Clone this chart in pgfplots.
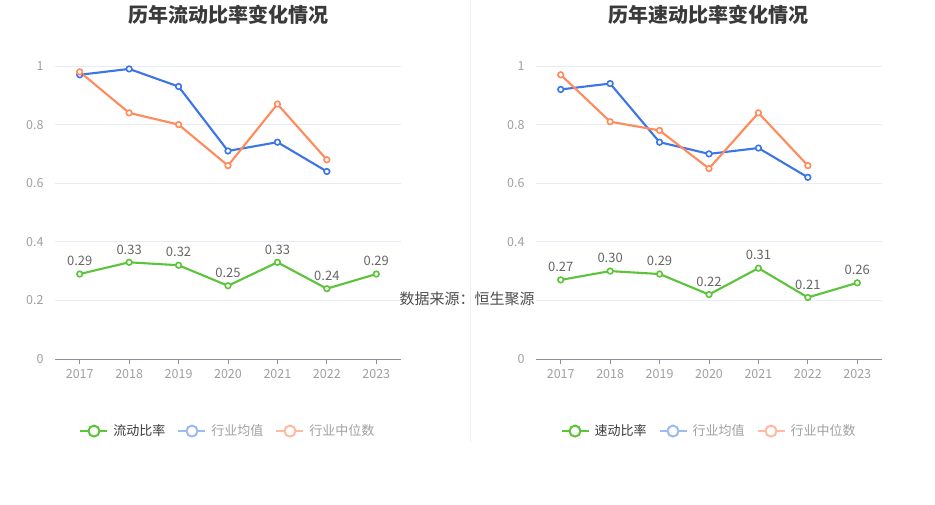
\documentclass[border=0pt]{standalone}
\usepackage{pgfplots}
\pgfplotsset{compat=1.18}
\usepackage{fontspec}
\setmainfont{Noto Sans CJK SC}
\definecolor{cgreen}{HTML}{5CC43A}
\definecolor{cblue}{HTML}{3C75E6}
\definecolor{corange}{HTML}{FF8A5C}
\definecolor{lgreen}{HTML}{5CC43A}
\definecolor{lblue}{HTML}{9DBAF3}
\definecolor{lorange}{HTML}{FFBBA2}
\definecolor{gridc}{HTML}{E6EBF4}
\definecolor{axc}{HTML}{8E919B}
\definecolor{tickc}{HTML}{A0A0A0}
\definecolor{labc}{HTML}{666666}
\definecolor{titc}{HTML}{3A3A3A}
\pgfplotsset{
  myax/.style={
    /pgf/number format/assume math mode=true,
    scale only axis, width=346pt, height=293pt,
    xmin=-0.5, xmax=6.5, ymin=0, ymax=1,
    xtick={0,...,6}, xticklabels={2017,2018,2019,2020,2021,2022,2023},
    ytick={0,0.2,0.4,0.6,0.8,1},
    yticklabels={0,0.2,0.4,0.6,0.8,1},
    axis x line*=bottom, axis y line*=left,
    x axis line style={draw=axc, line width=1pt, -},
    y axis line style={draw=none},
    xtick style={draw=axc, line width=0.8pt},
    ytick style={draw=none},
    tick align=outside, major tick length=5pt,
    ymajorgrids, grid style={draw=gridc, line width=0.8pt},
    tick label style={font=\fontsize{12.5}{14}\selectfont, text=tickc},
    xticklabel style={yshift=-2pt},
    yticklabel style={xshift=-3pt},
    clip=false,
    legend style={draw=none, fill=none, legend columns=3, at={(0.5,-0.246)}, anchor=center,
      font=\fontsize{13}{15}\selectfont, column sep=10pt,
      /tikz/every odd column/.style={column sep=3pt}},
    legend image code/.code={\draw[#1, line width=2pt] (0pt,0pt) -- (27pt,0pt);
      \draw[#1, line width=2pt, fill=white] (13.5pt,0pt) circle (5.5pt);},
  },
  ser/.style={line width=2.1pt, mark=*, mark size=2.8pt, mark options={fill=white, line width=1.6pt}},
  lab/.style={nodes near coords,
    nodes near coords style={/pgf/number format/fixed, /pgf/number format/fixed zerofill, /pgf/number format/precision=2,
      font=\fontsize{13}{15}\selectfont, text=labc, yshift=4pt}},
}
\begin{document}
\begin{tikzpicture}
\path[use as bounding box, fill=white] (0pt,0pt) rectangle (935pt,504pt);
\draw[color=black!6, line width=1pt] (470pt,504pt) -- (470pt,62pt);
\node[font=\fontsize{20}{22}\selectfont\bfseries, text=titc] at (228pt,489pt) {历年流动比率变化情况};
\node[font=\fontsize{20}{22}\selectfont\bfseries, text=titc] at (708pt,489pt) {历年速动比率变化情况};
% left
\begin{axis}[myax, at={(55pt,145pt)}, anchor=south west]
\addplot[ser, color=cblue, forget plot] coordinates {(0,0.97)(1,0.99)(2,0.93)(3,0.71)(4,0.74)(5,0.64)};
\addplot[ser, color=corange, forget plot] coordinates {(0,0.98)(1,0.84)(2,0.80)(3,0.66)(4,0.87)(5,0.68)};
\addplot[ser, color=cgreen, forget plot, lab]
  coordinates {(0,0.29)(1,0.33)(2,0.32)(3,0.25)(4,0.33)(5,0.24)(6,0.29)};
\addlegendimage{color=lgreen}
\addlegendentry{\textcolor{titc}{流动比率}}
\addlegendimage{color=lblue}
\addlegendentry{\textcolor{tickc}{行业均值}}
\addlegendimage{color=lorange}
\addlegendentry{\textcolor{tickc}{行业中位数}}
\end{axis}
% right
\begin{axis}[myax, at={(536pt,145pt)}, anchor=south west, yticklabels={0,,0.4,0.6,0.8,1}]
\addplot[ser, color=cblue, forget plot] coordinates {(0,0.92)(1,0.94)(2,0.74)(3,0.70)(4,0.72)(5,0.62)};
\addplot[ser, color=corange, forget plot] coordinates {(0,0.97)(1,0.81)(2,0.78)(3,0.65)(4,0.84)(5,0.66)};
\addplot[ser, color=cgreen, forget plot, lab]
  coordinates {(0,0.27)(1,0.30)(2,0.29)(3,0.22)(4,0.31)(5,0.21)(6,0.26)};
\addlegendimage{color=lgreen}
\addlegendentry{\textcolor{titc}{速动比率}}
\addlegendimage{color=lblue}
\addlegendentry{\textcolor{tickc}{行业均值}}
\addlegendimage{color=lorange}
\addlegendentry{\textcolor{tickc}{行业中位数}}
\end{axis}
\node[font=\fontsize{15}{17}\selectfont, text=titc!90] at (467pt,205pt) {数据来源：恒生聚源};
\end{tikzpicture}
\end{document}
